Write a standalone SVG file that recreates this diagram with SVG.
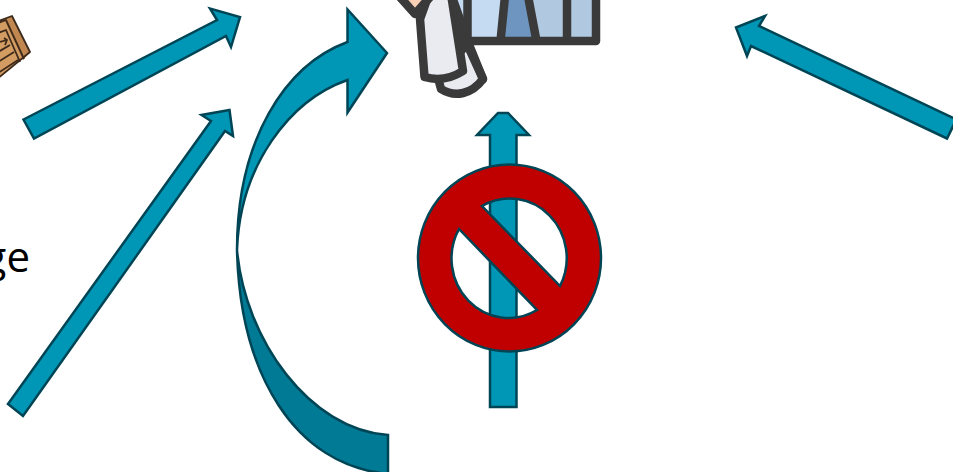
<svg xmlns="http://www.w3.org/2000/svg" width="953" height="472" viewBox="0 0 953 472">
<style>
.arrow{fill:#0097b6;stroke:#004555;stroke-width:2.5;stroke-linejoin:miter}
.dark{stroke:#3a3a3a;stroke-width:8.5;stroke-linejoin:round;stroke-linecap:round}
.wood{stroke:#3d2a1a;stroke-width:1.8;stroke-linejoin:round;fill:none}
</style>
<rect width="953" height="472" fill="#fff"/>
<g id="crate">
<polygon points="-4,22 12,16 30,52 -4,80" fill="#d29c63"/>
<polygon points="12,16 30,52 23,60 5,21" fill="#c08850"/>
<polygon class="wood" points="-4,22 12,16 30,52 -4,80"/>
<path class="wood" d="M-2,23 L6,20 L24,59M-2,33 L6,30 L20,62M-2,52 L10,45M-2,62 L14,52M-2,73 L18,60M0,42 L7,40 M4,38 L7,40 L5,45"/>
</g>
<g id="person">
<path d="M399,-4 L415,14 L431,-4Z" fill="#f9cfb5"/>
<rect x="450" y="-4" width="146" height="45" fill="#c5dbf2"/>
<polygon points="528,-4 596,-4 596,41 536,41" fill="#b0c8e0"/>
<polygon points="505,-4 528,-4 536,41 500,41" fill="#6d95bf"/>
<path class="dark" fill="none" d="M467.5,-4V41M505,-4L500.5,41M528,-4L536.5,41M567,-4V41M462,41H596V-4"/>
<path class="dark" fill="#e9ebf0" d="M438,78 L441,89 C455,98 472,94 483,79 L467,44 Z"/>
<path class="dark" fill="#e9ebf0" d="M420,19 L424.5,77 C438,81 452,78 463,71 L451,-6 L429,-6 Z"/>
<path class="dark" fill="none" d="M399,-4 L415,14 L431,-4"/>
<path class="dark" fill="none" d="M451,-6 L468,42 L483,79"/>
</g>
<text id="label" x="30" y="272" text-anchor="end" font-family="'Open Sans',sans-serif" font-size="42" fill="#000">ge</text>
<g id="connectors">
<polygon class="arrow" points="23.5,119.5 217,20 210,8.5 240,17 231,47 226,36 34,138.5"/>
<polygon class="arrow" points="8,404 211,121 201.5,115 229.5,110 233,136 225,131 23,416"/>
<polygon class="arrow" points="736,27.5 765,16 759,26 956.4,119.4 947,138.5 751,46 747,56"/>
<path class="arrow" d="M237,250 C245,340 310,430 388,435 V474 C295,465 240,375 237,250Z" style="fill:#007a95"/>
<path class="arrow" d="M237,250 C237,140 285,65 347.5,42 V9.5 L387,53 L347.5,112.5 V80 C290,100 240,165 237,250Z"/>
<polygon class="arrow" points="490,407 516.5,407 516.5,135 529,135 508,113 498,113 477,135 490,135"/>
</g>
<g id="no-symbol">
<path fill="#c00000" stroke="#004555" stroke-width="2.5" fill-rule="evenodd" d="M418,258 A91.5,93.5 0 1 1 601,258 A91.5,93.5 0 1 1 418,258Z M482,206 A57,59.5 0 0 1 560,286Z M459,229 A57,59.5 0 0 0 537,310Z"/>
</g>
</svg>
